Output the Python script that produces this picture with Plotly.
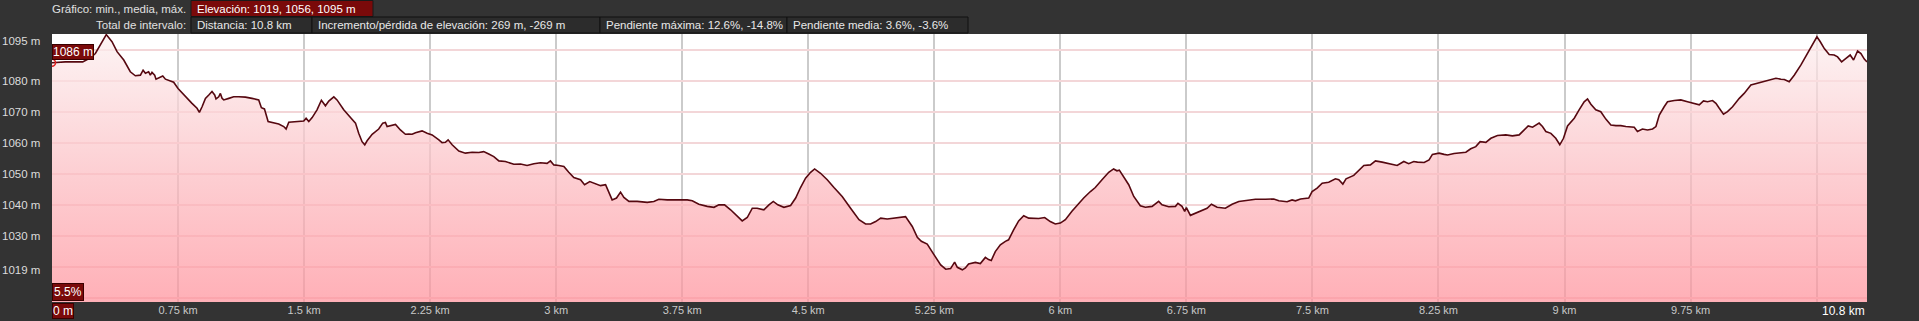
import plotly.graph_objects as go

# ---------------- data (distance in km, elevation in m) ----------------
seg1_km = [0.000, 0.079, 0.183, 0.228, 0.258, 0.288, 0.323, 0.357, 0.387, 0.427,
           0.466, 0.496, 0.526, 0.542, 0.556, 0.575, 0.585, 0.595, 0.611, 0.619,
           0.645, 0.659, 0.675, 0.704, 0.724, 0.750, 0.794, 0.833, 0.863, 0.877,
           0.893, 0.913, 0.933, 0.952, 0.968, 0.976, 0.992, 1.002, 1.012, 1.022,
           1.052, 1.081, 1.111, 1.151, 1.190, 1.230, 1.246, 1.264, 1.286, 1.310,
           1.349, 1.379, 1.393, 1.409, 1.438, 1.468, 1.498, 1.512, 1.528, 1.548,
           1.577, 1.603, 1.617, 1.627, 1.647, 1.677, 1.696, 1.736, 1.776, 1.806,
           1.825, 1.845, 1.861, 1.875, 1.905, 1.944, 1.968, 1.984, 1.994, 2.014,
           2.044, 2.073, 2.103, 2.123, 2.143, 2.163, 2.202, 2.232, 2.262, 2.302,
           2.321, 2.341, 2.357, 2.381, 2.421, 2.460, 2.500, 2.540, 2.569, 2.599,
           2.629, 2.659, 2.698]
seg1_elev = [1085.9, 1086.2, 1086.2, 1087.5, 1088.9, 1091.6, 1095.0, 1092.7, 1089.5, 1086.8,
             1083.0, 1081.7, 1081.9, 1083.5, 1082.5, 1083.0, 1081.9, 1082.8, 1081.9, 1080.6,
             1081.4, 1081.6, 1080.6, 1080.0, 1079.6, 1077.6, 1074.9, 1072.8, 1071.2, 1069.9,
             1071.7, 1074.4, 1075.5, 1076.6, 1075.5, 1074.2, 1074.9, 1076.0, 1074.4, 1073.9,
             1074.4, 1074.9, 1074.9, 1074.8, 1074.4, 1073.9, 1071.4, 1071.0, 1066.9, 1066.6,
             1066.1, 1065.3, 1064.5, 1066.7, 1066.9, 1066.9, 1067.1, 1068.0, 1066.9, 1068.2,
             1070.7, 1073.8, 1072.5, 1072.0, 1073.5, 1074.9, 1073.9, 1070.7, 1068.2, 1066.4,
             1063.1, 1060.4, 1059.4, 1060.7, 1062.8, 1064.5, 1066.4, 1066.6, 1065.3, 1065.5,
             1066.0, 1064.2, 1062.8, 1062.9, 1062.8, 1063.3, 1063.9, 1063.1, 1062.6, 1061.0,
             1060.1, 1060.2, 1061.0, 1059.4, 1057.4, 1056.7, 1057.0, 1056.9, 1057.2, 1056.4,
             1055.6, 1054.2, 1054.0]

seg2_km = [2.748, 2.788, 2.827, 2.867, 2.907, 2.946, 2.966, 2.986, 3.016, 3.046,
           3.075, 3.105, 3.145, 3.169, 3.200, 3.234, 3.264, 3.294, 3.314, 3.333,
           3.359, 3.383, 3.403, 3.433, 3.482, 3.542, 3.581, 3.611, 3.661, 3.720,
           3.780, 3.810, 3.849, 3.899, 3.939, 3.968, 4.002, 4.038, 4.077, 4.107,
           4.137, 4.167, 4.196, 4.236, 4.266, 4.292, 4.319, 4.355, 4.395, 4.425,
           4.454, 4.484, 4.514, 4.538, 4.573, 4.613, 4.653, 4.702, 4.752, 4.802,
           4.841, 4.871, 4.901, 4.931, 4.970, 5.010, 5.050, 5.079, 5.119, 5.149,
           5.173, 5.208, 5.248, 5.288, 5.318, 5.347, 5.371, 5.387, 5.417]
seg2_elev = [1053.1, 1053.2, 1052.7, 1053.3, 1053.6, 1053.4, 1054.2, 1052.9, 1052.7, 1052.4,
             1050.5, 1048.8, 1048.1, 1046.5, 1047.5, 1046.8, 1046.2, 1046.5, 1043.8, 1041.6,
             1042.2, 1044.1, 1042.4, 1041.1, 1041.1, 1040.8, 1041.1, 1041.8, 1041.6, 1041.5,
             1041.6, 1041.3, 1040.2, 1039.5, 1039.2, 1040.0, 1040.0, 1038.4, 1036.2, 1034.8,
             1035.9, 1038.9, 1038.9, 1038.4, 1040.0, 1041.1, 1040.0, 1039.2, 1039.8, 1042.2,
             1045.6, 1048.6, 1050.5, 1051.6, 1050.2, 1048.1, 1045.6, 1042.7, 1038.9, 1035.2,
             1033.8, 1033.8, 1034.6, 1035.7, 1035.4, 1035.7, 1035.9, 1036.2, 1033.0, 1029.5,
             1028.2, 1027.3, 1023.9, 1020.6, 1019.2, 1019.4, 1021.5, 1019.8, 1019.0]

seg3_km = [5.435, 5.454, 5.494, 5.524, 5.554, 5.573, 5.589, 5.613, 5.643, 5.673,
           5.692, 5.722, 5.752, 5.782, 5.812, 5.871, 5.907, 5.940, 5.970, 6.000,
           6.030, 6.069, 6.099, 6.139, 6.179, 6.208, 6.248, 6.288, 6.317, 6.337,
           6.351, 6.377, 6.407, 6.437, 6.476, 6.506, 6.546, 6.585, 6.605, 6.645,
           6.685, 6.700, 6.724, 6.740, 6.750, 6.774, 6.804, 6.843, 6.873, 6.899,
           6.933, 6.982, 7.022, 7.062, 7.101, 7.161, 7.220, 7.270, 7.300, 7.349,
           7.379, 7.399, 7.429, 7.478, 7.498, 7.528, 7.558, 7.597, 7.637, 7.657,
           7.681, 7.700, 7.746, 7.776, 7.806, 7.845, 7.875, 7.915, 7.954, 8.004,
           8.044, 8.073, 8.103]
seg3_elev = [1019.6, 1020.9, 1021.4, 1021.0, 1023.0, 1022.3, 1022.0, 1024.9, 1027.1, 1028.2,
             1028.7, 1031.9, 1034.8, 1036.5, 1035.7, 1035.6, 1035.9, 1034.6, 1033.8, 1034.1,
             1035.2, 1037.9, 1039.8, 1042.2, 1044.3, 1045.6, 1048.1, 1050.5, 1051.6, 1051.0,
             1051.2, 1049.1, 1046.5, 1042.7, 1039.7, 1039.2, 1039.5, 1041.1, 1040.0, 1039.4,
             1039.5, 1040.5, 1039.5, 1037.9, 1039.1, 1036.6, 1037.3, 1038.4, 1038.9, 1040.2,
             1039.2, 1038.9, 1040.2, 1041.1, 1041.4, 1041.8, 1041.8, 1041.9, 1041.3, 1041.0,
             1041.6, 1041.3, 1041.9, 1042.2, 1044.3, 1045.4, 1047.0, 1047.3, 1048.4, 1048.1,
             1046.7, 1048.4, 1049.5, 1051.0, 1052.7, 1052.9, 1054.2, 1053.8, 1053.4, 1052.7,
             1054.0, 1053.3, 1054.0]

seg4_km = [8.125, 8.165, 8.194, 8.214, 8.254, 8.284, 8.304, 8.343, 8.383, 8.413,
           8.442, 8.472, 8.498, 8.532, 8.562, 8.601, 8.651, 8.690, 8.730, 8.760,
           8.784, 8.810, 8.829, 8.849, 8.869, 8.889, 8.919, 8.948, 8.972, 8.994,
           9.018, 9.058, 9.087, 9.117, 9.137, 9.157, 9.186, 9.216, 9.246, 9.276,
           9.306, 9.335, 9.365, 9.395, 9.415, 9.434, 9.464, 9.494, 9.524, 9.544,
           9.564, 9.593, 9.613, 9.653, 9.692, 9.732, 9.772, 9.802, 9.827, 9.851,
           9.881, 9.901, 9.921, 9.946, 9.970, 10.000, 10.040, 10.069, 10.109, 10.149,
           10.188, 10.228, 10.258, 10.288, 10.308, 10.337, 10.367, 10.407, 10.446, 10.466,
           10.486, 10.502, 10.522, 10.546, 10.575, 10.605, 10.625, 10.649, 10.675, 10.700,
           10.720, 10.744, 10.764, 10.784, 10.800]
seg4_elev = [1053.8, 1053.7, 1054.5, 1056.3, 1056.7, 1056.3, 1056.1, 1056.6, 1056.9, 1057.0,
             1058.1, 1058.8, 1060.4, 1060.2, 1061.5, 1062.4, 1062.6, 1062.3, 1062.6, 1064.2,
             1065.5, 1065.1, 1065.8, 1066.4, 1065.3, 1063.7, 1063.1, 1061.5, 1059.4, 1061.5,
             1065.5, 1068.0, 1070.7, 1073.3, 1074.2, 1072.5, 1070.7, 1070.1, 1067.7, 1065.8,
             1065.6, 1065.6, 1065.3, 1065.3, 1065.1, 1063.7, 1064.5, 1064.2, 1064.5, 1065.3,
             1069.0, 1071.7, 1073.3, 1073.7, 1073.9, 1073.3, 1072.8, 1072.3, 1073.6, 1073.3,
             1073.7, 1072.8, 1071.2, 1069.3, 1070.1, 1071.7, 1074.4, 1076.0, 1078.7, 1079.3,
             1080.0, 1080.5, 1080.9, 1080.6, 1080.5, 1079.8, 1081.9, 1085.2, 1088.9, 1091.1,
             1092.7, 1094.3, 1092.7, 1090.5, 1088.6, 1088.4, 1087.8, 1086.2, 1087.3, 1088.4,
             1086.8, 1089.7, 1088.9, 1087.1, 1086.2]

x_tick_vals = [0.75, 1.5, 2.25, 3.0, 3.75, 4.5, 5.25, 6.0, 6.75, 7.5, 8.25, 9.0, 9.75, 10.5]
x_tick_text = ["0.75 km", "1.5 km", "2.25 km", "3 km", "3.75 km", "4.5 km", "5.25 km",
               "6 km", "6.75 km", "7.5 km", "8.25 km", "9 km", "9.75 km", ""]
y_label_vals = [1095, 1080, 1070, 1060, 1050, 1040, 1030, 1019]

total_km = 10.8
start_elev = 1086
start_grade = "5.5%"
header_row1_label = "Gráfico: min., media, máx."
header_row1_box = "Elevación: 1019, 1056, 1095 m"
header_row2_label = "Total de intervalo:"
header_row2_boxes = ["Distancia: 10.8 km",
                     "Incremento/pérdida de elevación: 269 m, -269 m",
                     "Pendiente máxima: 12.6%, -14.8%",
                     "Pendiente media: 3.6%, -3.6%"]

dist_km = seg1_km + seg2_km + seg3_km + seg4_km
elev_m = seg1_elev + seg2_elev + seg3_elev + seg4_elev

# ---------------- layout constants ----------------
W, H = 1919, 321
ML, MR, MT, MB = 52, 52, 34, 19
PW, PH = W - ML - MR, H - MT - MB
Y_RANGE = [1008.6, 1095.2]
FONT = "Arial, Liberation Sans, sans-serif"
DARK_RED = "#7a0a0a"
BG = "#333333"


def px_x(px):
    return (px - ML) / PW


def px_y(py):
    return 1 - (py - MT) / PH


fig = go.Figure()
fig.add_trace(go.Scatter(
    x=dist_km, y=elev_m, mode="lines",
    line=dict(color="#560810", width=1.6),
    fill="tozeroy",
    fillgradient=dict(type="vertical", start=Y_RANGE[0], stop=Y_RANGE[1],
                      colorscale=[[0.0, "rgba(255,145,155,0.72)"],
                                  [0.5, "rgba(252,190,195,0.72)"],
                                  [1.0, "rgba(252,240,240,0.72)"]]),
    hoverinfo="skip", showlegend=False))

# start point marker
fig.add_trace(go.Scatter(
    x=[dist_km[0]], y=[elev_m[0]], mode="markers",
    marker=dict(symbol="circle-open", size=7, color="#e02020", line=dict(width=1.5)),
    hoverinfo="skip", showlegend=False))

annotations = []
# y labels
for v in y_label_vals:
    annotations.append(dict(
        xref="paper", yref="y", x=0, y=v, xanchor="right", yanchor="middle",
        xshift=-10, yshift=-6 if v == max(y_label_vals) else 0,
        text=f"{v} m", showarrow=False,
        font=dict(family=FONT, size=11.5, color="#dcdcdc")))

# start elevation label
annotations.append(dict(
    xref="x", yref="y", x=dist_km[0], y=start_elev, xanchor="left", yanchor="bottom",
    yshift=2, text=f"{start_elev} m", showarrow=False, bgcolor=DARK_RED,
    bordercolor="#3a0000", borderwidth=1, borderpad=0,
    font=dict(family=FONT, size=12, color="white")))

# grade label
annotations.append(dict(
    xref="paper", yref="paper", x=0, y=0, xanchor="left", yanchor="bottom",
    yshift=1, text=start_grade, showarrow=False, bgcolor=DARK_RED,
    bordercolor="#3a0000", borderwidth=1, borderpad=1,
    font=dict(family=FONT, size=12, color="white")))

# 0 m label
annotations.append(dict(
    xref="paper", yref="paper", x=0, y=0, xanchor="left", yanchor="top",
    yshift=-1, text="0 m", showarrow=False, bgcolor=DARK_RED,
    bordercolor="#3a0000", borderwidth=1, borderpad=0,
    font=dict(family=FONT, size=12, color="white")))

# end distance label
annotations.append(dict(
    xref="x", yref="paper", x=total_km, y=0, xanchor="right", yanchor="top",
    yshift=0, text=f"{total_km:g} km", showarrow=False,
    font=dict(family=FONT, size=12, color="#ffffff")))

# header
annotations.append(dict(
    xref="paper", yref="paper", x=px_x(188), y=px_y(8.5), xanchor="right", yanchor="middle",
    text=header_row1_label, showarrow=False,
    font=dict(family=FONT, size=11.5, color="#e0e0e0")))
annotations.append(dict(
    xref="paper", yref="paper", x=px_x(188), y=px_y(25), xanchor="right", yanchor="middle",
    text=header_row2_label, showarrow=False,
    font=dict(family=FONT, size=11.5, color="#e0e0e0")))

shapes = []
shapes.append(dict(type="rect", xref="paper", yref="paper",
                   x0=px_x(191), x1=px_x(373), y0=px_y(16.5), y1=px_y(0.5),
                   fillcolor=DARK_RED, line=dict(color="#1a1a1a", width=1), layer="above"))
annotations.append(dict(
    xref="paper", yref="paper", x=px_x(195), y=px_y(8.5), xanchor="left", yanchor="middle",
    text=header_row1_box, showarrow=False,
    font=dict(family=FONT, size=11.5, color="#ffffff")))

box_edges = [191, 312, 600, 787, 968]
for i, txt in enumerate(header_row2_boxes):
    shapes.append(dict(type="rect", xref="paper", yref="paper",
                       x0=px_x(box_edges[i]), x1=px_x(box_edges[i + 1]),
                       y0=px_y(33), y1=px_y(17),
                       fillcolor="#2c2c2c", line=dict(color="#111111", width=1), layer="above"))
    annotations.append(dict(
        xref="paper", yref="paper", x=px_x(box_edges[i] + 4), y=px_y(25),
        xanchor="left", yanchor="middle", text=txt, showarrow=False,
        font=dict(family=FONT, size=11.5, color="#e8e8e8")))

fig.update_layout(
    width=W, height=H,
    margin=dict(l=ML, r=MR, t=MT, b=MB, pad=0, autoexpand=False),
    paper_bgcolor=BG, plot_bgcolor="#ffffff",
    showlegend=False,
    xaxis=dict(range=[0, total_km], tickvals=x_tick_vals, ticktext=x_tick_text,
               showgrid=True, gridcolor="#cbcbcb", gridwidth=2, zeroline=False,
               showline=False, ticks="", ticklen=0, automargin=False,
               tickfont=dict(family=FONT, size=11, color="#c8c8c8"), fixedrange=True),
    yaxis=dict(range=Y_RANGE, tick0=1010, dtick=10, showticklabels=False,
               showgrid=True, gridcolor="#f3d6d8", gridwidth=1.5, zeroline=False,
               showline=False, ticks="", fixedrange=True, automargin=False),
    annotations=annotations,
    shapes=shapes,
)

fig.write_html("out.html")
